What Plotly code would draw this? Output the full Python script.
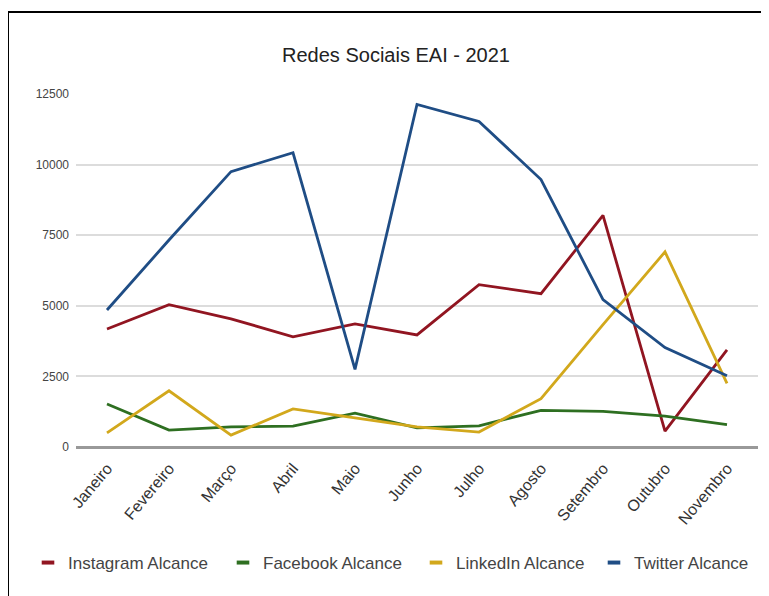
import plotly.graph_objects as go

meses = ["Janeiro", "Fevereiro", "Março", "Abril", "Maio", "Junho", "Julho",
         "Agosto", "Setembro", "Outubro", "Novembro"]
instagram = [4180, 5040, 4540, 3900, 4360, 3970, 5750, 5430, 8200, 560, 3440]
facebook = [1520, 600, 710, 740, 1200, 680, 750, 1300, 1260, 1090, 790]
linkedin = [500, 1990, 420, 1350, 1030, 710, 530, 1710, 4330, 6910, 2250]
twitter = [4850, 7330, 9750, 10420, 2750, 12130, 11530, 9470, 5220, 3520, 2520]

series = [
    ("Instagram Alcance", instagram, "#911521"),
    ("Facebook Alcance", facebook, "#2e6f21"),
    ("LinkedIn Alcance", linkedin, "#d2a81c"),
    ("Twitter Alcance", twitter, "#1f4d85"),
]
y_ticks = [0, 2500, 5000, 7500, 10000, 12500]

OFF = 8  # page body margin
W, H = 769, 596
L, T = 76 - OFF, 94 - OFF
R = W - (758 - OFF)
B = H - (447 - OFF)
pw, ph = W - L - R, H - T - B

legend_ids = ["legend", "legend2", "legend3", "legend4"]
legend_marker_x = [48, 243, 436, 614]  # screen px of legend symbol centres

fig = go.Figure()
for name, vals, col in series:
    fig.add_trace(go.Scatter(x=meses, y=vals, mode="lines", name=name,
                             line=dict(color=col, width=2.8), showlegend=False))
for (name, vals, col), lid in zip(series, legend_ids):
    fig.add_trace(go.Scatter(x=[None], y=[None], mode="markers", name=name,
                             legend=lid,
                             marker=dict(symbol="line-ew", size=9,
                                         line=dict(width=4, color=col))))

legend_common = dict(orientation="h", xanchor="left", yanchor="middle",
                     y=-(563 - 447) / ph, itemwidth=30,
                     font=dict(size=17, color="#444"),
                     bgcolor="rgba(0,0,0,0)")
legends = {}
for lid, mx in zip(legend_ids, legend_marker_x):
    legends[lid] = dict(legend_common, x=(mx - 20 - 76) / pw)

fig.update_layout(
    width=W, height=H,
    margin=dict(l=L, r=R, t=T, b=B),
    paper_bgcolor="white", plot_bgcolor="white",
    font=dict(family="Liberation Sans, Arial, sans-serif", color="#333"),
    title=dict(text="Redes Sociais EAI - 2021", x=(396 - OFF) / W, xanchor="center",
               y=1 - (55 - OFF) / H, yanchor="middle",
               font=dict(size=20, color="#222")),
    xaxis=dict(type="category", range=[-0.5, 10.5], showgrid=False,
               tickangle=-50, tickfont=dict(size=16, color="#333"),
               ticks="", showline=False, zeroline=False,
               ticklabelstandoff=8),
    yaxis=dict(range=[0, 12500], tickvals=y_ticks,
               ticktext=[str(v) for v in y_ticks],
               showgrid=True, gridcolor="#dcdcdc", gridwidth=1.5,
               zeroline=True, zerolinecolor="#999", zerolinewidth=3,
               tickfont=dict(size=12, color="#444"), ticks="",
               ticklabelstandoff=6),
    shapes=[dict(type="rect", xref="paper", yref="paper",
                 x0=(8 - 76) / pw, x1=1.2,
                 y0=-0.6, y1=(447 - 12) / ph,
                 line=dict(color="black", width=2), layer="below")],
    **legends,
)

fig.write_html("out.html")
